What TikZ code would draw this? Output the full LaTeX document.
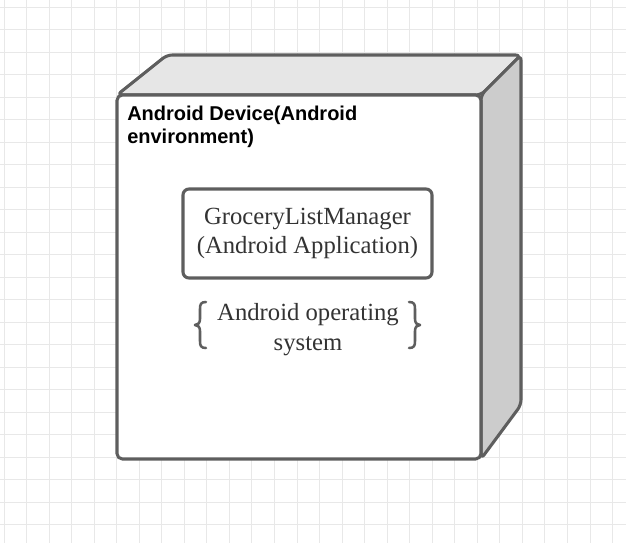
\documentclass[tikz,border=0pt]{standalone}
\usepackage{fontspec}
\setmainfont{Liberation Serif}
\setsansfont{Liberation Sans}
\definecolor{gridc}{HTML}{E8E8E8}
\definecolor{edgec}{HTML}{5E5E5E}
\definecolor{topc}{HTML}{E6E6E6}
\definecolor{sidec}{HTML}{CCCCCC}
\definecolor{textc}{HTML}{333333}
\tikzset{
  gridline/.style={draw=gridc, line width=0.75pt},
  face/.style={draw=edgec, line width=2.3pt, rounded corners=4pt, line join=round},
  appbox/.style={draw=edgec, line width=2.3pt, rounded corners=4.5pt, fill=white,
    minimum width=186.75pt, minimum height=66.75pt, inner sep=0pt, align=center,
    text=textc, font=\fontsize{18.5}{22}\selectfont},
  brace/.style={draw=edgec, line width=1.9pt, line cap=round, line join=round},
  titletext/.style={anchor=base west, align=left, inner sep=0pt, text=black,
    font=\sffamily\bfseries\fontsize{15}{17.25}\selectfont},
  ostext/.style={align=center, inner sep=0pt, text=textc,
    font=\fontsize{18.5}{22.5}\selectfont}
}
\begin{document}
\begin{tikzpicture}[x=0.75pt,y=-0.75pt]
\useasboundingbox (0,0) rectangle (626,543);
\fill[white] (0,0) rectangle (626,543);
\foreach \i in {0,...,27} \draw[gridline] ({4+22.54*\i},0) -- ({4+22.54*\i},543);
\foreach \j in {0,...,23} \draw[gridline] (0,{7.3+22.5*\j}) -- (626,{7.3+22.5*\j});
% node box
\coordinate (ftl) at (117,95);
\coordinate (ftr) at (481,95);
\coordinate (fbr) at (481,459);
\coordinate (fbl) at (117,459);
\coordinate (btl) at (167,55);
\coordinate (btr) at (521,55);
\coordinate (bbr) at (521,405);
\filldraw[face, fill=topc] (ftl) -- (btl) -- (btr) -- (ftr) -- cycle;
\filldraw[face, fill=sidec] (ftr) -- (btr) -- (bbr) -- (fbr) -- cycle;
\filldraw[face, fill=white] (ftl) rectangle (fbr);
\node[titletext] (title) at (127,143) {Android Device(Android\\environment)};
\node[appbox] (app) at (307.5,233.5) {GroceryListManager\\(Android Application)};
\node[ostext, anchor=base] (os) at (308,350) {Android operating\\system};
\draw[brace] (206,302) .. controls (201,302) and (200,304) .. (200,309) -- (200,319)
  .. controls (200,323) and (198,325) .. (195,325)
  .. controls (198,325) and (200,327) .. (200,331) -- (200,341)
  .. controls (200,346) and (201,348) .. (206,348);
\draw[brace] (409,302) .. controls (414,302) and (415,304) .. (415,309) -- (415,319)
  .. controls (415,323) and (417,325) .. (420,325)
  .. controls (417,325) and (415,327) .. (415,331) -- (415,341)
  .. controls (415,346) and (414,348) .. (409,348);
\end{tikzpicture}
\end{document}
